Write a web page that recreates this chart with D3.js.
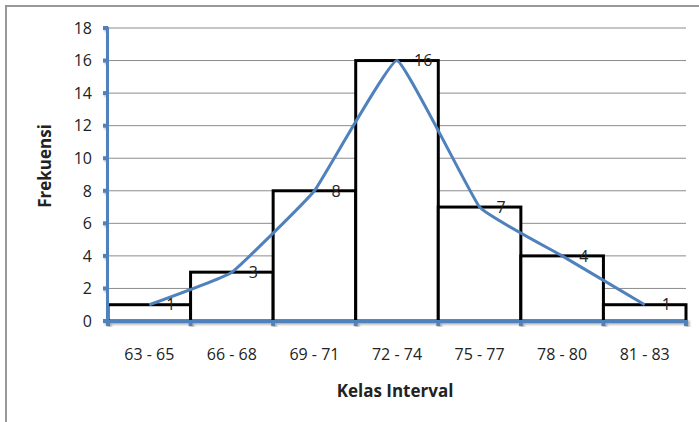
<!DOCTYPE html>
<html>
<head>
<meta charset="utf-8">
<script src="https://cdn.jsdelivr.net/npm/d3@7"></script>
<style>
  html, body { margin: 0; padding: 0; background: #fff; }
  svg { display: block; }
  text { font-family: "Open Sans", "Noto Sans", sans-serif; fill: #222; }
</style>
</head>
<body>
<svg id="chart" width="699" height="422"></svg>
<script>
// Frequency table: class intervals and counts
const categories = ["63 - 65", "66 - 68", "69 - 71", "72 - 74", "75 - 77", "78 - 80", "81 - 83"];
const frequencies = [1, 3, 8, 16, 7, 4, 1];
const yTicks = [0, 2, 4, 6, 8, 10, 12, 14, 16, 18];

const svg = d3.select("#chart");
const W = 699, H = 422;
const margin = { left: 108, right: 13, top: 28, bottom: 101 };
const plotW = W - margin.left - margin.right;
const plotH = H - margin.top - margin.bottom;

const axisBlue = "#4F81BD";

// Outer frame
svg.append("path")
  .attr("d", `M6,${H} V6 H${W}`)
  .attr("fill", "none")
  .attr("stroke", "#999")
  .attr("stroke-width", 2);

const defs = svg.append("defs");
const shadow = defs.append("filter").attr("id", "axShadow")
  .attr("x", "-20%").attr("y", "-20%").attr("width", "140%").attr("height", "140%");
shadow.append("feDropShadow")
  .attr("dx", 1.5).attr("dy", 1.5).attr("stdDeviation", 1.2)
  .attr("flood-color", "#000").attr("flood-opacity", 0.35);

const g = svg.append("g").attr("transform", `translate(${margin.left},${margin.top})`);

const x = d3.scaleBand().domain(categories).range([0, plotW]).paddingInner(0).paddingOuter(0);
const y = d3.scaleLinear().domain([0, 18]).range([plotH, 0]);

// Horizontal gridlines
g.append("g").selectAll("line")
  .data(yTicks.filter(t => t > 0))
  .join("line")
  .attr("x1", 0).attr("x2", plotW)
  .attr("y1", d => y(d)).attr("y2", d => y(d))
  .attr("stroke", "#8c8c8c").attr("stroke-width", 1);

// Histogram bars
g.append("g").selectAll("rect")
  .data(frequencies)
  .join("rect")
  .attr("x", (d, i) => x(categories[i]))
  .attr("y", d => y(d))
  .attr("width", x.bandwidth())
  .attr("height", d => plotH - y(d))
  .attr("fill", "#fff")
  .attr("stroke", "#000")
  .attr("stroke-width", 3);

// Frequency polygon through class midpoints
const pts = frequencies.map((d, i) => [x(categories[i]) + x.bandwidth() / 2, y(d)]);
g.append("path")
  .attr("d", d3.line().curve(d3.curveCardinal.tension(0.72))(pts))
  .attr("fill", "none")
  .attr("stroke", axisBlue)
  .attr("stroke-width", 3)
  .attr("stroke-linejoin", "round");

// Value labels to the right of each point
g.append("g").selectAll("text")
  .data(frequencies)
  .join("text")
  .attr("x", (d, i) => x(categories[i]) + x.bandwidth() / 2 + 17)
  .attr("y", d => y(d))
  .attr("dy", "0.36em")
  .attr("font-size", 16)
  .text(d => d);

// Y axis
const yAxis = g.append("g").attr("filter", "url(#axShadow)");
yAxis.append("line")
  .attr("x1", 0).attr("x2", 0).attr("y1", -1).attr("y2", plotH + 2)
  .attr("stroke", axisBlue).attr("stroke-width", 4);
yAxis.selectAll("line.tick")
  .data(yTicks)
  .join("line")
  .attr("class", "tick")
  .attr("x1", -5).attr("x2", 0)
  .attr("y1", d => y(d)).attr("y2", d => y(d))
  .attr("stroke", axisBlue).attr("stroke-width", 4);

g.append("g").selectAll("text")
  .data(yTicks)
  .join("text")
  .attr("x", -16)
  .attr("y", d => y(d))
  .attr("dy", "0.36em")
  .attr("text-anchor", "end")
  .attr("font-size", 16)
  .text(d => d);

// X axis
const edges = categories.map(c => x(c)).concat([plotW]);
const xAxis = g.append("g").attr("filter", "url(#axShadow)");
xAxis.append("line")
  .attr("x1", -2).attr("x2", plotW + 2).attr("y1", plotH).attr("y2", plotH)
  .attr("stroke", axisBlue).attr("stroke-width", 4);
xAxis.selectAll("line.tick")
  .data(edges)
  .join("line")
  .attr("class", "tick")
  .attr("x1", d => d).attr("x2", d => d)
  .attr("y1", plotH).attr("y2", plotH + 5)
  .attr("stroke", axisBlue).attr("stroke-width", 4);

g.append("g").selectAll("text")
  .data(categories)
  .join("text")
  .attr("x", d => x(d) + x.bandwidth() / 2)
  .attr("y", plotH + 39)
  .attr("text-anchor", "middle")
  .attr("font-size", 16)
  .text(d => d);

// Axis titles
svg.append("text")
  .attr("x", margin.left + plotW / 2 - 2)
  .attr("y", 397)
  .attr("text-anchor", "middle")
  .attr("font-size", 17)
  .attr("font-weight", "bold")
  .text("Kelas Interval");

svg.append("text")
  .attr("transform", "translate(51,166) rotate(-90)")
  .attr("text-anchor", "middle")
  .attr("font-size", 17)
  .attr("font-weight", "bold")
  .text("Frekuensi");
</script>
</body>
</html>
